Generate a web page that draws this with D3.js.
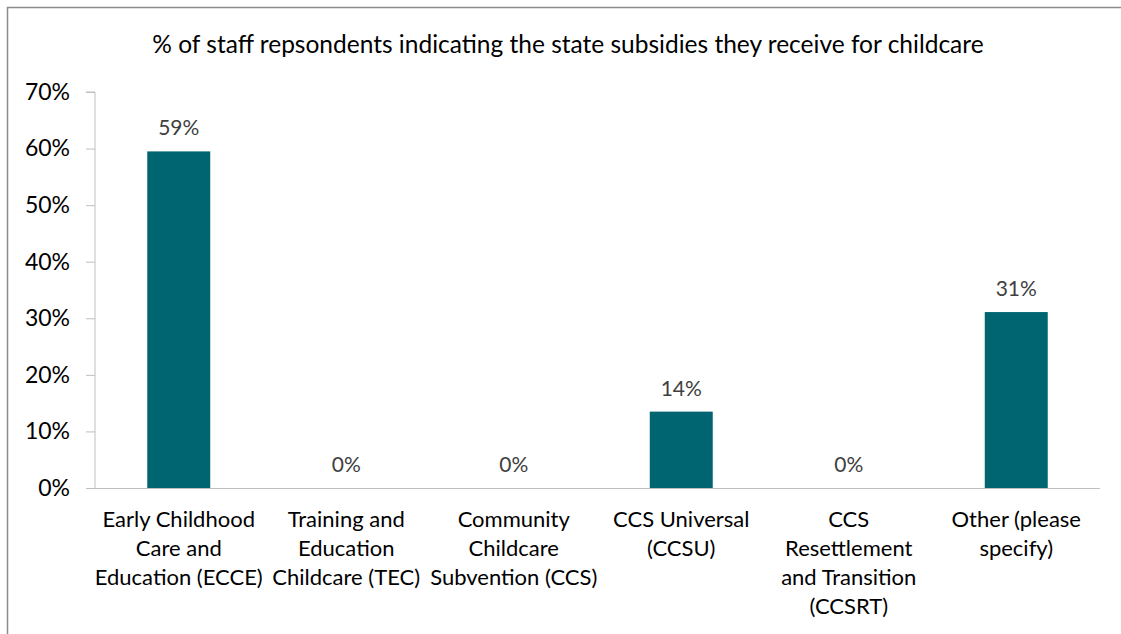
<!DOCTYPE html>
<html><head><meta charset="utf-8">
<script src="https://cdn.jsdelivr.net/npm/d3@7"></script>
<style>body{margin:0;background:#fff}svg{display:block}text{font-family:Lato,"Open Sans",sans-serif}</style>
</head><body><svg id="c" width="1121" height="634"></svg>
<script>
const categories = [
  ["Early Childhood","Care and","Education (ECCE)"],
  ["Training and","Education","Childcare (TEC)"],
  ["Community","Childcare","Subvention (CCS)"],
  ["CCS Universal","(CCSU)"],
  ["CCS","Resettlement","and Transition","(CCSRT)"],
  ["Other (please","specify)"]
];
const values = [59.5, 0, 0, 13.5, 0, 31.1];
const dataLabels = ["59%","0%","0%","14%","0%","31%"];
const yTicks = [0,10,20,30,40,50,60,70];
const title = "% of staff repsondents indicating the state subsidies they receive for childcare";

const svg = d3.select("#c");
svg.append("rect").attr("x",7.5).attr("y",7.5).attr("width",1125).attr("height",640)
  .attr("fill","none").attr("stroke","#8c8c8c").attr("stroke-width",1.5);

const L=95, R=1100, T=92, B=488;
const x = d3.scaleBand().domain(d3.range(categories.length)).range([L,R]).padding(0);
const y = d3.scaleLinear().domain([0,70]).range([B,T]);
const bw = x.step()*0.376;

svg.append("text").attr("x",568).attr("y",53).attr("text-anchor","middle")
  .attr("font-size",24.5).attr("fill","#000").text(title);

const ya = svg.append("g").attr("transform",`translate(${L},0)`)
  .call(d3.axisLeft(y).tickValues(yTicks).tickFormat(d=>d+"%").tickSize(9).tickPadding(16));
ya.select(".domain").attr("stroke","#bfbfbf").attr("d",`M-9,${T}H0V${B}`);
ya.selectAll(".tick line").attr("stroke","#bfbfbf");
ya.selectAll("text").attr("font-size",23).attr("fill","#000").attr("font-family","Lato,'Open Sans',sans-serif");

svg.append("line").attr("x1",L).attr("x2",R).attr("y1",B+0.5).attr("y2",B+0.5).attr("stroke","#bfbfbf");

svg.selectAll(".bar").data(values).join("rect").attr("class","bar")
  .attr("x",(d,i)=>x(i)+x.bandwidth()/2-bw/2).attr("width",bw)
  .attr("y",d=>y(d)).attr("height",d=>B-y(d)).attr("fill","#006571");

svg.selectAll(".dl").data(values).join("text").attr("class","dl")
  .attr("x",(d,i)=>x(i)+x.bandwidth()/2).attr("y",d=>y(d)-16)
  .attr("text-anchor","middle").attr("font-size",21).attr("fill","#404040")
  .text((d,i)=>dataLabels[i]);

const cg = svg.selectAll(".cat").data(categories).join("text").attr("class","cat")
  .attr("text-anchor","middle").attr("font-size",22).attr("fill","#000");
cg.each(function(lines,i){
  d3.select(this).selectAll("tspan").data(lines).join("tspan")
    .attr("x",x(i)+x.bandwidth()/2).attr("y",(d,j)=>527+j*29).text(d=>d);
});
</script></body></html>
